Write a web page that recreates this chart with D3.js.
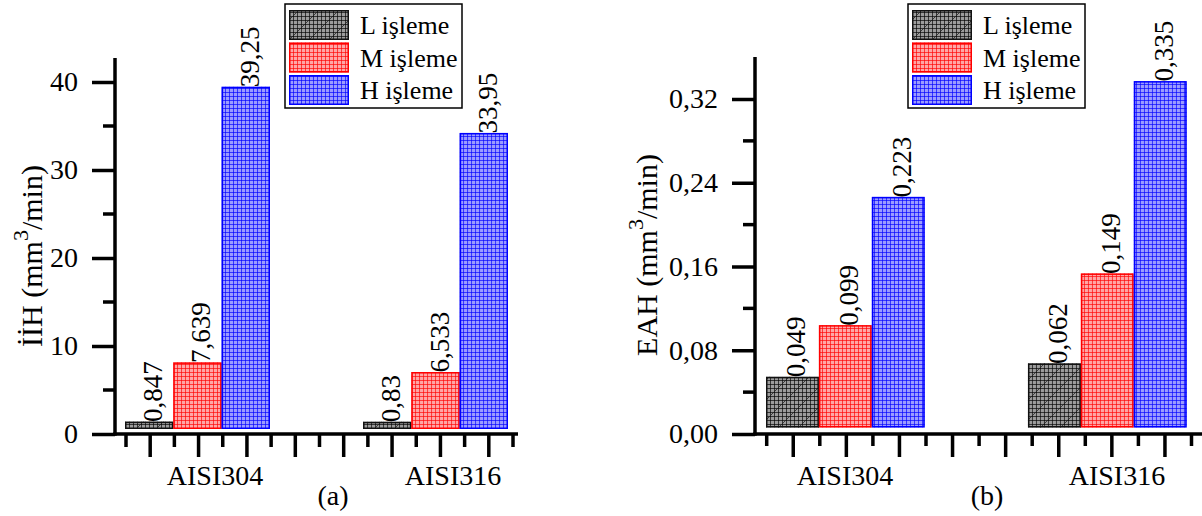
<!DOCTYPE html>
<html>
<head>
<meta charset="utf-8">
<script src="https://cdn.jsdelivr.net/npm/d3@7"></script>
<style>
    body { margin: 0; background: #fff; }
    svg text { font-family: "Liberation Serif", "Times New Roman", serif; fill: #000; }
    .axis path, .axis line { stroke: #000; stroke-width: 3.5; }
</style>
</head>
<body>
<svg id="view" width="1202" height="516"></svg>
<script>
const Groups = ['AISI304', 'AISI316'];
const Series = ['L işleme', 'M işleme', 'H işleme'];

// İİH (mm3/min)
const IihValues = [
    [0.847, 7.639, 39.25],
    [0.83, 6.533, 33.95]
];
const IihTicks = [0, 10, 20, 30, 40];
const IihMinor = [5, 15, 25, 35];

// EAH (mm3/min)
const EahValues = [
    [0.049, 0.099, 0.223],
    [0.062, 0.149, 0.335]
];
const EahTicks = [0, 0.08, 0.16, 0.24, 0.32];
const EahMinor = [0.04, 0.12, 0.20, 0.28];

const SeriesStyle = [
    { id: 'pL', bg: '#9c9c9c', line: '#000', border: '#111', diag: true },
    { id: 'pM', bg: '#ffa6a6', line: '#ff0000', border: '#ff0000', diag: false },
    { id: 'pH', bg: '#9c9cff', line: '#0000ff', border: '#0000ff', diag: false }
];

function comma(s) {
    return String(s).replace('.', ',');
}

function initPatterns(svg) {
    var defs = svg.append('defs');
    SeriesStyle.forEach(function(s) {
        var p = defs.append('pattern')
            .attr('id', s.id)
            .attr('patternUnits', 'userSpaceOnUse')
            .attr('width', 4)
            .attr('height', 4);
        p.append('rect').attr('width', 4).attr('height', 4).attr('fill', s.bg);
        p.append('path')
            .attr('d', 'M0,0.5H4M0.5,0V4')
            .attr('stroke', s.line)
            .attr('stroke-width', 1)
            .attr('stroke-opacity', 0.65);
    });
    var d = defs.append('pattern')
        .attr('id', 'diag')
        .attr('patternUnits', 'userSpaceOnUse')
        .attr('width', 20)
        .attr('height', 20);
    d.append('path')
        .attr('d', 'M-5,5L5,-5M0,20L20,0M15,25L25,15')
        .attr('stroke', '#222')
        .attr('stroke-width', 0.8);
}

function drawPanel(svg, cfg) {
    var g = svg.append('g');

    var y = d3.scaleLinear().domain(cfg.yDomain).range([cfg.zeroY, cfg.topTickY]);
    var yBar = d3.scaleLinear().domain(cfg.yDomain).range(cfg.barRange);
    var x0 = d3.scaleBand().domain(Groups).range(cfg.groupRange).paddingInner(cfg.padInner).paddingOuter(0);
    var x1 = d3.scaleBand().domain(Series).range([0, x0.bandwidth()]);
    var xt = d3.scaleLinear().domain([0, 16]).range(cfg.tickRange);

    // bars
    var groups = g.selectAll('g.group')
        .data(cfg.values)
        .enter()
        .append('g')
        .attr('transform', function(d, i) {
            return 'translate(' + x0(Groups[i]) + ',0)';
        });

    groups.each(function(vals) {
        var gg = d3.select(this);
        vals.forEach(function(v, j) {
            var s = SeriesStyle[j];
            var bx = x1(Series[j]);
            var bw = x1.bandwidth();
            var top = yBar(v);
            var h = yBar(0) - top;
            gg.append('rect')
                .attr('x', bx).attr('y', top).attr('width', bw).attr('height', h)
                .attr('fill', 'url(#' + s.id + ')');
            if (s.diag) {
                gg.append('rect')
                    .attr('x', bx).attr('y', top).attr('width', bw).attr('height', h)
                    .attr('fill', 'url(#diag)');
            }
            gg.append('rect')
                .attr('x', bx + 0.75).attr('y', top + 0.75)
                .attr('width', bw - 1.5).attr('height', h - 1.5)
                .attr('fill', 'none')
                .attr('stroke', s.border)
                .attr('stroke-width', 1.5);
            gg.append('text')
                .attr('transform', 'translate(' + (bx + bw / 2 + 13) + ',' + (top + 0.5) + ') rotate(-90)')
                .attr('font-size', 27)
                .text(comma(v));
        });
    });

    // y axis
    var ya = g.append('g')
        .attr('class', 'axis')
        .attr('transform', 'translate(' + cfg.axisX + ',0)');
    ya.call(d3.axisLeft(y).tickValues(cfg.ticks).tickSize(23).tickPadding(14).tickFormat(cfg.fmt));
    ya.select('.domain').remove();
    ya.selectAll('text').attr('font-size', 28).attr('font-family', '"Liberation Serif", serif');
    ya.selectAll('.minor')
        .data(cfg.minor)
        .enter()
        .append('line')
        .attr('class', 'minor')
        .attr('x1', -12).attr('x2', 0)
        .attr('y1', function(d) { return y(d); })
        .attr('y2', function(d) { return y(d); });
    ya.append('line')
        .attr('x1', 0).attr('x2', 0)
        .attr('y1', cfg.axisTopY).attr('y2', cfg.zeroY + 1.75);

    // x axis
    var xa = g.append('g')
        .attr('class', 'axis')
        .attr('transform', 'translate(0,' + cfg.zeroY + ')');
    xa.append('line')
        .attr('x1', cfg.axisX - 1.75).attr('x2', cfg.axisRight)
        .attr('y1', 0).attr('y2', 0);
    var tickIdx = d3.range(17);
    xa.selectAll('line.xt')
        .data(tickIdx)
        .enter()
        .append('line')
        .attr('class', 'xt')
        .attr('x1', function(d) { return xt(d); })
        .attr('x2', function(d) { return xt(d); })
        .attr('y1', 0)
        .attr('y2', function(d) { return d % 2 ? cfg.majorLen : cfg.minorLen; });

    g.selectAll('text.cat')
        .data(Groups)
        .enter()
        .append('text')
        .attr('class', 'cat')
        .attr('x', function(d, i) { return x0(d) + cfg.labelShift[i]; })
        .attr('y', 485)
        .attr('text-anchor', 'middle')
        .attr('font-size', 28)
        .text(function(d) { return d; });

    // y title
    var t = g.append('text')
        .attr('transform', 'translate(' + cfg.titleX + ',' + cfg.titleY + ') rotate(-90)')
        .attr('text-anchor', 'middle')
        .attr('font-size', 30);
    t.append('tspan').text(cfg.title + ' (mm');
    t.append('tspan').attr('dy', -14).attr('font-size', 22).text('3');
    t.append('tspan').attr('dy', 14).text('/min)');

    g.append('text')
        .attr('x', cfg.subX)
        .attr('y', 505)
        .attr('text-anchor', 'middle')
        .attr('font-size', 28)
        .text(cfg.sub);

    // legend
    var lg = g.append('g').attr('transform', 'translate(' + cfg.legendX + ',4)');
    lg.append('rect')
        .attr('x', 0).attr('y', 0).attr('width', 177).attr('height', 104)
        .attr('fill', '#fff').attr('stroke', '#000').attr('stroke-width', 1.5);
    Series.forEach(function(name, j) {
        var s = SeriesStyle[j];
        var ry = 6 + j * 32.5;
        lg.append('rect')
            .attr('x', 4).attr('y', ry).attr('width', 60).attr('height', 30)
            .attr('fill', 'url(#' + s.id + ')');
        if (s.diag) {
            lg.append('rect')
                .attr('x', 4).attr('y', ry).attr('width', 60).attr('height', 30)
                .attr('fill', 'url(#diag)');
        }
        lg.append('rect')
            .attr('x', 4.75).attr('y', ry + 0.75).attr('width', 58.5).attr('height', 28.5)
            .attr('fill', 'none').attr('stroke', s.border).attr('stroke-width', 1.5);
        lg.append('text')
            .attr('x', 75)
            .attr('y', ry + 24)
            .attr('font-size', 26)
            .text(name);
    });
}

function init() {
    var svg = d3.select('svg#view');
    initPatterns(svg);

    drawPanel(svg, {
        values: IihValues,
        yDomain: [0, 40],
        ticks: IihTicks,
        minor: IihMinor,
        fmt: d3.format('d'),
        zeroY: 434,
        topTickY: 82,
        axisTopY: 58,
        barRange: [429, 80.2],
        axisX: 115,
        axisRight: 518,
        groupRange: [125, 508],
        padInner: 0.391,
        tickRange: [126, 513],
        minorLen: 13,
        majorLen: 23,
        labelShift: [90, 90],
        title: 'İİH',
        titleX: 42,
        titleY: 256,
        sub: '(a)',
        subX: 333,
        legendX: 285
    });

    drawPanel(svg, {
        values: EahValues,
        yDomain: [0, 0.32],
        ticks: EahTicks,
        minor: EahMinor,
        fmt: function(d) { return comma(d3.format('.2f')(d)); },
        zeroY: 434,
        topTickY: 99,
        axisTopY: 57,
        barRange: [427.5, 96.6],
        axisX: 755,
        axisRight: 1202,
        groupRange: [766, 1186.7],
        padInner: 0.394,
        tickRange: [766.7, 1191.5],
        minorLen: 12,
        majorLen: 23,
        labelShift: [79, 89],
        title: 'EAH',
        titleX: 657,
        titleY: 255,
        sub: '(b)',
        subX: 987,
        legendX: 908
    });
}

init();
</script>
</body>
</html>
